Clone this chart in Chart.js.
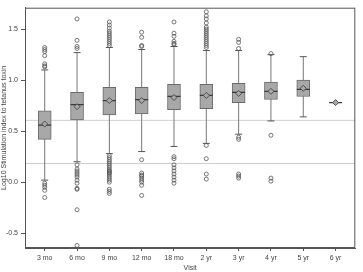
<!DOCTYPE html>
<html>
<head>
<meta charset="utf-8">
<script src="https://cdn.jsdelivr.net/npm/chart.js@4/dist/chart.umd.min.js"></script>
<style>
  html, body { margin: 0; padding: 0; background: #fff; }
  #wrap { width: 363px; height: 272px; }
</style>
</head>
<body>
<div id="wrap"><canvas id="chart"></canvas></div>
<script>
// Visit categories and box statistics (log10 stimulation index)
const visits = ['3 mo', '6 mo', '9 mo', '12 mo', '18 mo', '2 yr', '3 yr', '4 yr', '5 yr', '6 yr'];
const q1 = [0.42, 0.61, 0.66, 0.67, 0.71, 0.72, 0.78, 0.81, 0.84, null];
const q3 = [0.70, 0.88, 0.93, 0.93, 0.96, 0.96, 0.97, 0.98, 1.00, null];
const medians = [0.56, 0.76, 0.80, 0.81, 0.84, 0.85, 0.88, 0.89, 0.91, 0.78];
const means = [0.57, 0.74, 0.80, 0.80, 0.83, 0.85, 0.87, 0.89, 0.92, 0.78];
const whiskerLo = [0.02, 0.20, 0.28, 0.30, 0.35, 0.38, 0.47, 0.60, 0.64, null];
const whiskerHi = [1.10, 1.27, 1.32, 1.30, 1.33, 1.29, 1.29, 1.25, 1.23, null];
const outliers = [
    [1.13, 1.14, 1.16, 1.24, 1.28, 1.30, 1.32, -0.01, -0.03, -0.05, -0.08, -0.15],
    [1.31, 1.33, 1.39, 1.60, 0.17, 0.13, 0.11, 0.09, 0.07, 0.05, 0.02, -0.01, -0.06, -0.07, -0.27, -0.62],
    [1.34, 1.36, 1.38, 1.40, 1.42, 1.44, 1.46, 1.48, 1.51, 1.54, 1.57,
     0.26, 0.24, 0.22, 0.20, 0.18, 0.16, 0.14, 0.12, 0.11, 0.10, 0.09, 0.08, 0.06, 0.04, 0.02, 0.00, -0.07, -0.09, -0.11],
    [1.33, 1.34, 1.42, 1.47, 0.22, 0.09, 0.07, 0.06, 0.04, 0.02, 0.00, -0.03, -0.13],
    [1.35, 1.36, 1.38, 1.43, 1.46, 1.57, 0.25, 0.23, 0.17, 0.14, 0.11, 0.08, 0.05, 0.02, -0.01],
    [1.32, 1.34, 1.36, 1.38, 1.40, 1.42, 1.44, 1.46, 1.48, 1.50, 1.52, 1.56, 1.60, 1.63, 1.67, 0.36, 0.23, 0.08, 0.03],
    [1.31, 1.37, 1.40, 0.44, 0.42, 0.08, 0.06, 0.04],
    [1.26, 0.46, 0.04, 0.01],
    [],
    []
];
const refLines = [0.606, 0.183];
const yTicks = [-0.5, 0.0, 0.5, 1.0, 1.5];
const yMin = -0.645, yMax = 1.71;
const xMin = -0.61, xMax = 9.61;

const FONT = { family: "'Liberation Sans', Arial, sans-serif", size: 7 };
const TEXT = '#444';
const LINE = '#555';

// build plotting data from the arrays above
const boxData = visits.map((v, i) => ({ x: i, y: [q1[i], q3[i]] })).filter(d => d.y[0] !== null);
const whiskerData = [];
const capData = [];
visits.forEach((v, i) => {
    if (whiskerLo[i] === null) return;
    whiskerData.push({ x: i, y: whiskerLo[i] }, { x: i, y: whiskerHi[i] }, { x: i, y: null });
    capData.push({ x: i, y: whiskerLo[i] }, { x: i, y: whiskerHi[i] });
});
const medianData = medians.map((m, i) => ({ x: i, y: m }));
const meanData = means.map((m, i) => ({ x: i, y: m }));
const outlierData = outliers.flatMap((list, i) => list.map(v => ({ x: i, y: v })));
const refDatasets = refLines.map(r => ({
    type: 'line',
    data: [{ x: xMin, y: r }, { x: xMax, y: r }],
    borderColor: '#cfcfcf',
    borderWidth: 1,
    pointRadius: 0,
    order: 9
}));

// outline round the plot area
const frame = {
    id: 'frame',
    afterDraw(chart) {
        const a = chart.chartArea, ctx = chart.ctx;
        ctx.save();
        ctx.strokeStyle = LINE;
        ctx.lineWidth = 1;
        ctx.strokeRect(a.left + 0.5, a.top + 0.5, a.right - a.left - 1, a.bottom - a.top - 1);
        ctx.restore();
    }
};

new Chart(document.getElementById('chart'), {
    type: 'scatter',
    data: {
        datasets: [
            ...refDatasets,
            {
                type: 'line',
                data: whiskerData,
                borderColor: '#777',
                borderWidth: 1,
                pointRadius: 0,
                spanGaps: false,
                order: 8
            },
            {
                type: 'bar',
                data: boxData,
                backgroundColor: '#a8a8a8',
                borderColor: '#6a6a6a',
                borderWidth: 1,
                borderSkipped: false,
                barThickness: 13,
                order: 5
            },
            {
                data: capData,
                pointStyle: 'line',
                pointRadius: 3.5,
                borderColor: '#555',
                borderWidth: 1,
                order: 4
            },
            {
                data: medianData,
                pointStyle: 'line',
                pointRadius: 6.5,
                borderColor: '#3a3a3a',
                borderWidth: 1.2,
                order: 3
            },
            {
                data: meanData,
                pointStyle: 'rectRot',
                pointRadius: 3,
                backgroundColor: '#a8a8a8',
                borderColor: '#444',
                borderWidth: 0.9,
                order: 2
            },
            {
                data: outlierData,
                pointStyle: 'circle',
                pointRadius: 2,
                backgroundColor: 'rgba(255,255,255,0)',
                borderColor: '#555',
                borderWidth: 0.8,
                order: 1
            }
        ]
    },
    options: {
        responsive: true,
        maintainAspectRatio: false,
        animation: false,
        layout: { padding: { top: 3, right: 4, left: 0, bottom: 0 } },
        plugins: { legend: { display: false }, tooltip: { enabled: false } },
        scales: {
            x: {
                type: 'linear',
                offset: false,
                min: xMin,
                max: xMax,
                afterBuildTicks: axis => { axis.ticks = visits.map((v, i) => ({ value: i })); },
                afterFit: axis => { axis.height = 24; },
                ticks: {
                    autoSkip: false,
                    maxRotation: 0,
                    padding: 3,
                    color: TEXT,
                    font: FONT,
                    callback: v => visits[v]
                },
                grid: { drawOnChartArea: false, offset: false, color: LINE, tickLength: 3 },
                border: { display: true, color: LINE },
                title: { display: true, text: 'Visit', color: TEXT, font: FONT, padding: { top: -3, bottom: 0 } }
            },
            y: {
                min: yMin,
                max: yMax,
                afterBuildTicks: axis => { axis.ticks = yTicks.map(v => ({ value: v })); },
                afterFit: axis => { axis.width = 25; },
                ticks: {
                    padding: 3,
                    color: TEXT,
                    font: FONT,
                    callback: v => v.toFixed(1)
                },
                grid: { drawOnChartArea: false, color: LINE, tickLength: 4 },
                border: { display: true, color: LINE },
                title: { display: true, text: 'Log10 Stimulation index to tetanus toxin', color: TEXT, font: FONT, padding: { top: 0, bottom: 0 } }
            }
        }
    },
    plugins: [frame]
});
</script>
</body>
</html>
